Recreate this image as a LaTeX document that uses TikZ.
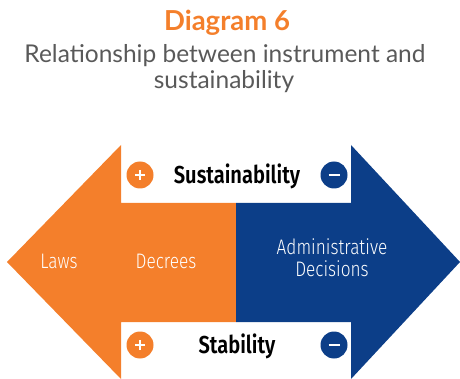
\documentclass[tikz,border=0pt]{standalone}
\usepackage{fontspec}
\setmainfont{Lato}
\newfontfamily\condbold[FakeStretch=0.82]{Fira Sans SemiBold}
\newfontfamily\condlight[FakeStretch=0.82]{Fira Sans Light}
\definecolor{orng}{HTML}{F47F2B}
\definecolor{navy}{HTML}{0C3E88}
\definecolor{subgray}{HTML}{595959}
\tikzset{
  badge/.style={circle, inner sep=0pt, minimum size=27pt},
  sign/.style={white, line width=2.6pt},
  label/.style={font=\condbold\fontsize{24.5}{28}\selectfont, text=black, inner sep=0pt},
  inner/.style={font=\condlight\fontsize{21}{22}\selectfont, text=white, inner sep=0pt, align=center},
}
\begin{document}
\begin{tikzpicture}[x=1pt,y=-1pt]
\useasboundingbox (0,0) rectangle (460,379);
\fill[orng] (236,203) -- (121,203) -- (121,145) -- (7,262) -- (121,379) -- (121,322) -- (236,322) -- cycle;
\fill[navy] (236,203) -- (351,203) -- (351,145) -- (460,262) -- (351,379) -- (351,322) -- (236,322) -- cycle;

\node[font=\bfseries\fontsize{27.5}{30}\selectfont, text=orng, inner sep=0pt] (title) at (227,23) {Diagram 6};
\node[font=\fontsize{24.5}{28}\selectfont, text=subgray, inner sep=0pt] (sub1) at (225,56) {Relationship between instrument and};
\node[font=\fontsize{24.5}{28}\selectfont, text=subgray, inner sep=0pt] (sub2) at (224,82) {sustainability};

\node[badge, fill=orng] (p1) at (140,175) {};
\node[badge, fill=navy] (m1) at (334,175) {};
\node[badge, fill=orng] (p2) at (140,345) {};
\node[badge, fill=navy] (m2) at (334,345) {};
\foreach \n in {p1,p2} {
  \draw[sign] ([xshift=-5pt]\n.center) -- ([xshift=5pt]\n.center);
  \draw[sign] ([yshift=-5pt]\n.center) -- ([yshift=5pt]\n.center);
}
\foreach \n in {m1,m2} {
  \draw[sign] ([xshift=-5.5pt]\n.center) -- ([xshift=5.5pt]\n.center);
}

\node[label] (sus) at (237,176) {Sustainability};
\node[label] (stab) at (237,346) {Stability};

\node[inner] (laws) at (59,261) {Laws};
\node[inner] (dec) at (166,261) {Decrees};
\node[inner] (adm) at (332,258) {Administrative\\Decisions};
\end{tikzpicture}
\end{document}
